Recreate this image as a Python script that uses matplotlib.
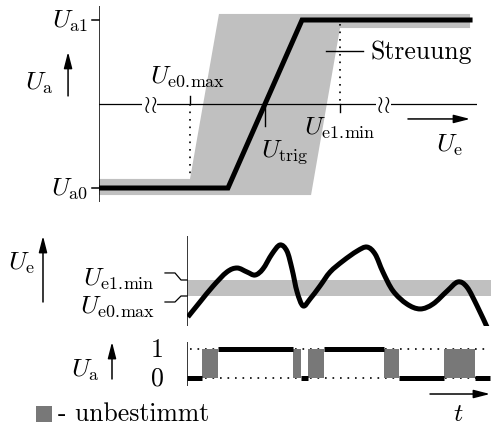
import numpy as np
import matplotlib
matplotlib.use("Agg")
import matplotlib.pyplot as plt
from matplotlib.patches import Polygon, Rectangle, PathPatch
from matplotlib.path import Path

plt.rcParams['mathtext.fontset'] = 'cm'
plt.rcParams['font.family'] = 'cmr10'
plt.rcParams['axes.unicode_minus'] = False

# --- Top panel: transfer characteristic Ua(Ue) ---------------------------
Ue0max, Utrig, Ue1min = 1.0, 1.5, 2.0        # input thresholds
Ua0, Ua1 = 0.0, 1.0                          # output levels
ramp_ue = [0.393, 1.253, 1.747, 2.867]       # ideal characteristic
ramp_ua = [Ua0, Ua0, Ua1, Ua1]
spread_ue = [0.393, 1.0, 1.193, 2.867, 2.867, 2.0, 1.807, 0.393]   # "Streuung" area
spread_ua = [0.054, 0.054, 1.036, 1.036, 0.952, 0.952, -0.042, -0.042]

# --- Middle panel: input signal Ue(t) ------------------------------------
t_sig = [0.03, 0.43, 0.87, 1.33, 1.67, 2.0, 2.27, 2.53, 2.83, 3.1, 3.33, 3.5,
         3.67, 3.87, 4.1, 4.43, 4.77, 5.2, 5.67, 6.0, 6.27, 6.53, 6.87, 7.33,
         7.77, 8.2, 8.67, 9.03, 9.33, 9.67, 10.03]
ue_sig = [-0.31, 0.62, 1.62, 2.5, 2.75, 2.5, 2.31, 2.69, 3.62, 4.19, 3.81, 2.69,
          1.25, 0.38, 0.81, 1.62, 2.5, 3.19, 3.81, 4.06, 3.62, 2.5, 1.31, 0.5,
          0.19, 0.5, 1.31, 1.88, 1.56, 0.38, -1.06]

# --- Bottom panel: output states (0, 1, x = unbestimmt) --------------------
seg_start = [0.0, 0.5, 1.03, 3.53, 3.8, 4.03, 4.57, 6.57, 7.07, 8.57, 9.6]
seg_end = [0.5, 1.03, 3.53, 3.8, 4.03, 4.57, 6.57, 7.07, 8.57, 9.6, 10.1]
seg_state = ['0', 'x', '1', 'x', '0', 'x', '1', 'x', '0', 'x', '0']

W, H = 491, 427
GREY = '#c0c0c0'
DARK = '#787878'
FS = 18.5
LW = 3.6
arrow = dict(arrowstyle='-|>,head_length=0.7,head_width=0.18', color='k',
             lw=1.1, shrinkA=0, shrinkB=0, mutation_scale=14)
dots = (0, (1, 3.5))
E0MAX = r'$U_{\mathrm{e0.\!max}}$'
E1MIN = r'$U_{\mathrm{e1.\!min}}$'

fig = plt.figure(figsize=(W / 100, H / 100), dpi=100)


def panel(x0, x1, y0, y1):
    ax = fig.add_axes([x0 / W, 1 - y1 / H, (x1 - x0) / W, (y1 - y0) / H])
    ax.set_axis_off()
    return ax


def smooth_path(x, y):
    # Catmull-Rom through the points, written as cubic Bezier segments
    p = np.column_stack([x, y])
    p = np.vstack([p[0], p, p[-1]])
    verts = [p[1]]
    codes = [Path.MOVETO]
    for i in range(1, len(p) - 2):
        c1 = p[i] + (p[i + 1] - p[i - 1]) / 6
        c2 = p[i + 1] - (p[i + 2] - p[i]) / 6
        verts += [c1, c2, p[i + 1]]
        codes += [Path.CURVE4] * 3
    return Path(verts, codes)


# top panel
ax = panel(99, 477, 7, 203)
ax.set_xlim(0.3933, 2.9133)
ax.set_ylim(-0.0833, 1.0833)
ax.add_patch(Polygon(np.column_stack([spread_ue, spread_ua]), closed=True,
                     fc=GREY, ec='none', zorder=1))
ax.plot([0.3933, 0.3933], [-0.0833, 1.0833], 'k', lw=1.1, zorder=3)
ax.plot([0.3933, 2.9133], [0.5, 0.5], 'k', lw=0.9, zorder=3)
for xb in (0.733, 2.287):
    ax.text(xb, 0.5, r'$\wr\!\wr$', fontsize=17, ha='center', va='center',
            bbox=dict(fc='white', ec='none', pad=0.1), zorder=4)
for ua in (Ua0, Ua1):
    ax.plot([0.3933 - 0.047, 0.3933], [ua, ua], 'k', lw=1.1, clip_on=False)
ax.plot(ramp_ue, ramp_ua, 'k', lw=LW, solid_joinstyle='miter', zorder=5)
ax.plot([Ue0max, Ue0max], [0.5, 0.054], 'k', lw=1.2, ls=dots, zorder=4)
ax.plot([Ue0max, Ue0max], [0.5, 0.545], 'k', lw=1.0, zorder=4)
ax.plot([Ue1min, Ue1min], [0.976, 0.5], 'k', lw=1.2, ls=dots, zorder=4)
ax.plot([Ue1min, Ue1min], [0.5, 0.455], 'k', lw=1.0, zorder=4)
ax.plot([Utrig, Utrig], [0.5, 0.37], 'k', lw=1.0, zorder=6)
ax.text(0.32, Ua1, r'$U_{\mathrm{a1}}$', fontsize=FS, ha='right', va='center')
ax.text(0.32, Ua0, r'$U_{\mathrm{a0}}$', fontsize=FS, ha='right', va='center')
ax.text(0.09, 0.63, r'$U_{\mathrm{a}}$', fontsize=FS, ha='right', va='center')
ax.annotate('', xy=(0.187, 0.81), xytext=(0.187, 0.548), arrowprops=arrow,
            annotation_clip=False)
ax.text(0.987, 0.667, E0MAX, fontsize=FS, ha='center', va='center')
ax.text(2.0, 0.36, E1MIN, fontsize=FS, ha='center', va='center')
ax.text(1.633, 0.22, r'$U_{\mathrm{trig}}$', fontsize=FS, ha='center', va='center')
ax.text(2.733, 0.26, r'$U_{\mathrm{e}}$', fontsize=FS, ha='center', va='center')
ax.annotate('', xy=(2.867, 0.411), xytext=(2.453, 0.411), arrowprops=arrow)
ax.plot([1.907, 2.153], [0.815, 0.815], 'k', lw=1.0)
ax.text(2.2, 0.815, 'Streuung', fontsize=FS, ha='left', va='center')

# middle panel
ax = panel(187, 491, 237, 327)
ax.set_xlim(0, 10.133)
ax.set_ylim(-0.875, 4.75)
ax.axhspan(Ue0max, Ue1min, color=GREY, lw=0, zorder=1)
ax.plot([0, 0], [-0.875, 4.75], 'k', lw=1.1)
ax.add_patch(PathPatch(smooth_path(t_sig, ue_sig), fc='none', ec='k', lw=LW,
                       capstyle='butt', joinstyle='round', zorder=3))
ax.plot([-0.733, -0.4, -0.2, 0], [2.44, 2.44, Ue1min, Ue1min], 'k', lw=0.9,
        clip_on=False)
ax.plot([-0.733, -0.4, -0.2, 0], [0.625, 0.625, Ue0max, Ue0max], 'k', lw=0.9,
        clip_on=False)
ax.text(-1.067, 2.1, E1MIN, fontsize=FS, ha='right', va='center')
ax.text(-1.067, 0.4, E0MAX, fontsize=FS, ha='right', va='center')
ax.text(-5.07, 3.1, r'$U_{\mathrm{e}}$', fontsize=FS, ha='right', va='center')
ax.annotate('', xy=(-4.8, 4.75), xytext=(-4.8, 0.625), arrowprops=arrow,
            annotation_clip=False)

# bottom panel
ax = panel(187, 491, 343, 387)
ax.set_xlim(0, 10.133)
ax.set_ylim(-0.276, 1.241)
ax.plot([0, 0], [-0.276, 1.241], 'k', lw=1.1)
ax.plot([0.1, 10.1], [1, 1], 'k', lw=1.2, ls=dots)
ax.plot([0.1, 10.1], [0, 0], 'k', lw=1.2, ls=dots)
for s, e, st in zip(seg_start, seg_end, seg_state):
    if st == 'x':
        ax.add_patch(Rectangle((s, 0), e - s, 1, fc=DARK, ec='none', zorder=3))
    else:
        ax.plot([s, e], [int(st)] * 2, 'k', lw=LW, solid_capstyle='butt', zorder=4)
ax.text(-0.77, 1, '1', fontsize=FS, ha='right', va='center')
ax.text(-0.77, 0, '0', fontsize=FS, ha='right', va='center')
ax.text(-3.4, 0.3, r'$U_{\mathrm{a}}$', fontsize=FS, ha='center', va='center')
ax.annotate('', xy=(-2.5, 1.241), xytext=(-2.5, -0.034), arrowprops=arrow,
            annotation_clip=False)
ax.annotate('', xy=(10.1, -0.552), xytext=(8.1, -0.552), arrowprops=arrow,
            annotation_clip=False)
ax.text(9.03, -1.45, r'$t$', fontsize=FS, ha='center', va='baseline')
ax.add_patch(Rectangle((-5.03, -1.5), 0.53, 0.52, fc=DARK, ec='none',
                       clip_on=False))
ax.text(-4.3, -1.45, '- unbestimmt', fontsize=FS, ha='left', va='baseline')

fig.savefig('out.png', dpi=100)
